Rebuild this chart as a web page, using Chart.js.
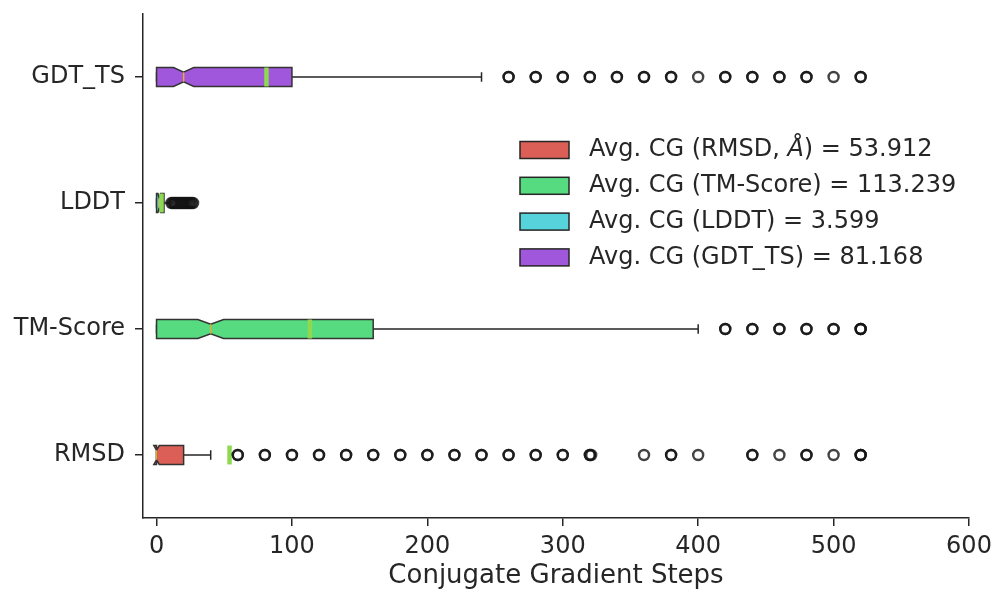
<!DOCTYPE html>
<html>
<head>
<meta charset="utf-8">
<script src="https://cdn.jsdelivr.net/npm/chart.js@4.4.0/dist/chart.umd.min.js"></script>
<style>
html, body { margin: 0; padding: 0; background: #fff; }
#wrap { width: 995px; height: 592px; }
</style>
</head>
<body>
<div id="wrap"><canvas id="chart"></canvas></div>
<script>
// categories from bottom (0) to top (3)
var categories = ['RMSD', 'TM-Score', 'LDDT', 'GDT_TS'];
var colors = ['#db5f57', '#57db80', '#57d3db', '#a157db'];
var xTicks = [0, 100, 200, 300, 400, 500, 600];

// box statistics per category
var q1 = [0, 0, 0, 0];
var medians = [0, 40, 2, 20];
var q3 = [20, 160, 5.5, 100];
var whiskerLow = [0, 0, 0, 0];
var whiskerHigh = [40, 400, 10, 240];
var notchHalf = [2, 9.5, 1, 7.5];
var means = [53.912, 113.239, 3.599, 81.168];

// outliers (repeated values overlap and draw darker)
var rmsdOutliers = [60, 60, 80, 80, 100, 100, 120, 120, 140, 140, 160, 160, 180, 180, 200, 200,
  220, 220, 240, 240, 260, 260, 280, 280, 300, 300, 320, 320, 321, 360, 380, 380, 400,
  440, 440, 460, 480, 480, 500, 520, 520, 520];
var tmOutliers = [420, 420, 440, 440, 460, 460, 480, 480, 500, 500, 520, 520, 520];
var lddtOutliers = [11, 12, 13, 14, 15, 16, 17, 18, 19, 20, 21, 22, 23, 24, 25, 26, 27];
var gdtOutliers = [260, 260, 280, 280, 300, 300, 320, 320, 340, 340, 360, 360, 380, 380, 400,
  420, 420, 440, 440, 460, 460, 480, 480, 500, 520, 520];

var legendLabels = [
  ['Avg. CG (RMSD, ', 'Å', ') = ' + means[0].toFixed(3)],
  ['Avg. CG (TM-Score) = ' + means[1].toFixed(3)],
  ['Avg. CG (LDDT) = ' + means[2].toFixed(3)],
  ['Avg. CG (GDT_TS) = ' + means[3].toFixed(3)]
];

var textColor = '#262626';
var boxHalf = 0.075; // half of box thickness, in category units

function pts(arr, idx) {
  return arr.map(function (v) { return {x: v, y: idx}; });
}

//Draws notched boxes, whiskers, medians and means
var boxPlugin = {
  id: 'boxes',
  beforeDatasetsDraw: function (chart) {
    var ctx = chart.ctx, xs = chart.scales.x, ys = chart.scales.y;
    ctx.save();
    for (var i = 0; i < categories.length; i++) {
      var yc = ys.getPixelForValue(i);
      var h = ys.getPixelForValue(i - boxHalf) - yc;
      var X = function (v) { return xs.getPixelForValue(v); };

      // whiskers and caps
      ctx.strokeStyle = textColor;
      ctx.lineWidth = 1.5;
      ctx.beginPath();
      ctx.moveTo(X(q3[i]), yc); ctx.lineTo(X(whiskerHigh[i]), yc);
      ctx.moveTo(X(q1[i]), yc); ctx.lineTo(X(whiskerLow[i]), yc);
      ctx.moveTo(X(whiskerHigh[i]), yc - h / 2); ctx.lineTo(X(whiskerHigh[i]), yc + h / 2);
      ctx.moveTo(X(whiskerLow[i]), yc - h / 2); ctx.lineTo(X(whiskerLow[i]), yc + h / 2);
      ctx.stroke();

      // notched box
      var nl = medians[i] - notchHalf[i], nr = medians[i] + notchHalf[i];
      ctx.beginPath();
      ctx.moveTo(X(q1[i]), yc - h);
      ctx.lineTo(X(nl), yc - h);
      ctx.lineTo(X(medians[i]), yc - h / 2);
      ctx.lineTo(X(nr), yc - h);
      ctx.lineTo(X(q3[i]), yc - h);
      ctx.lineTo(X(q3[i]), yc + h);
      ctx.lineTo(X(nr), yc + h);
      ctx.lineTo(X(medians[i]), yc + h / 2);
      ctx.lineTo(X(nl), yc + h);
      ctx.lineTo(X(q1[i]), yc + h);
      ctx.closePath();
      ctx.fillStyle = colors[i];
      ctx.fill();
      ctx.strokeStyle = '#333333';
      ctx.lineWidth = 1.5;
      ctx.stroke();

      // median
      ctx.strokeStyle = '#e8a83c';
      ctx.lineWidth = 1.5;
      ctx.beginPath();
      ctx.moveTo(X(medians[i]), yc - h / 2);
      ctx.lineTo(X(medians[i]), yc + h / 2);
      ctx.stroke();

      // mean
      ctx.strokeStyle = '#8ed94f';
      ctx.lineWidth = 4.5;
      ctx.beginPath();
      ctx.moveTo(X(means[i]), yc - h);
      ctx.lineTo(X(means[i]), yc + h);
      ctx.stroke();
    }
    ctx.restore();
  },
  afterDraw: function (chart) {
    var ctx = chart.ctx, area = chart.chartArea;
    var lx = area.left + 377, ly = area.top + 136, dy = 35.8;
    ctx.save();
    ctx.textBaseline = 'middle';
    for (var i = 0; i < legendLabels.length; i++) {
      var yc = ly + i * dy;
      ctx.fillStyle = colors[i];
      ctx.fillRect(lx, yc - 8.5, 49, 17);
      ctx.strokeStyle = '#262626';
      ctx.lineWidth = 1.5;
      ctx.strokeRect(lx, yc - 8.5, 49, 17);
      var tx = lx + 69;
      ctx.fillStyle = textColor;
      for (var k = 0; k < legendLabels[i].length; k++) {
        ctx.font = (k === 1 ? 'italic ' : '') + '24px "DejaVu Sans"';
        ctx.fillText(legendLabels[i][k], tx, yc);
        tx += ctx.measureText(legendLabels[i][k]).width;
      }
    }
    ctx.restore();
  }
};

var pointStyle = {
  pointStyle: 'circle',
  pointRadius: 5,
  pointBorderWidth: 2.4,
  pointBackgroundColor: 'rgba(0,0,0,0)',
  pointBorderColor: 'rgba(20,20,20,0.8)',
  showLine: false
};

var datasets = [
  Object.assign({label: 'RMSD', data: pts(rmsdOutliers, 0)}, pointStyle),
  Object.assign({label: 'TM-Score', data: pts(tmOutliers, 1)}, pointStyle),
  Object.assign({label: 'LDDT', data: pts(lddtOutliers, 2)}, pointStyle),
  Object.assign({label: 'GDT_TS', data: pts(gdtOutliers, 3)}, pointStyle)
];

new Chart(document.getElementById('chart'), {
  type: 'scatter',
  data: {datasets: datasets},
  plugins: [boxPlugin],
  options: {
    responsive: true,
    maintainAspectRatio: false,
    animation: false,
    layout: {padding: {top: 14, right: 26, left: 0, bottom: 0}},
    plugins: {legend: {display: false}, tooltip: {enabled: false}},
    scales: {
      x: {
        type: 'linear',
        min: -10,
        max: 600,
        afterBuildTicks: function (s) { s.ticks = xTicks.map(function (v) { return {value: v}; }); },
        afterFit: function (s) { s.height = 74; s.paddingLeft = 0; s.paddingRight = 0; },
        grid: {drawOnChartArea: false, drawTicks: true, tickLength: 8, color: textColor, lineWidth: 1.5},
        border: {display: true, color: textColor, width: 1.5},
        ticks: {color: textColor, font: {family: 'DejaVu Sans', size: 24}, padding: 6, maxRotation: 0},
        title: {display: true, text: 'Conjugate Gradient Steps', color: textColor,
          font: {family: 'DejaVu Sans', size: 26}, padding: {top: 0, bottom: 0}}
      },
      y: {
        type: 'linear',
        min: -0.5,
        max: 3.5,
        afterBuildTicks: function (s) { s.ticks = categories.map(function (c, i) { return {value: i}; }); },
        afterFit: function (s) { s.width = 143; s.paddingTop = 0; s.paddingBottom = 0; },
        grid: {drawOnChartArea: false, drawTicks: true, tickLength: 8, color: textColor, lineWidth: 1.5},
        border: {display: true, color: textColor, width: 1.5},
        ticks: {color: textColor, font: {family: 'DejaVu Sans', size: 24}, padding: 10,
          callback: function (v) { return categories[v]; }}
      }
    }
  }
});
</script>
</body>
</html>
